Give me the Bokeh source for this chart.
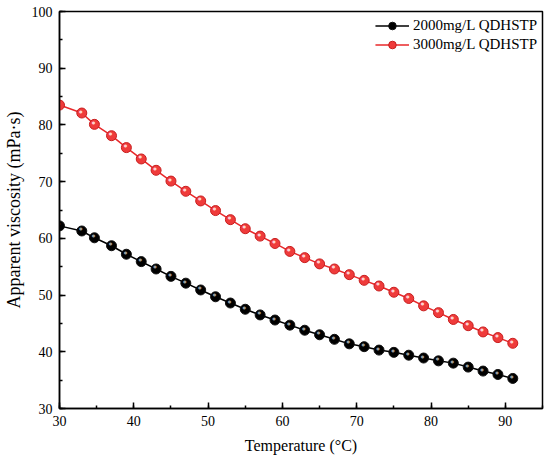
from bokeh.plotting import figure
from bokeh.models import SingleIntervalTicker, Range1d, Legend, LegendItem, ColumnDataSource
from bokeh.embed import file_html
from bokeh.resources import INLINE
from bokeh.core.properties import value

temperature = [30, 33, 34.7, 37, 39, 41, 43, 45, 47, 49, 51, 53, 55, 57, 59,
               61, 63, 65, 67, 69, 71, 73, 75, 77, 79, 81, 83, 85, 87, 89, 91]
visc_2000 = [62.2, 61.3, 60.1, 58.7, 57.2, 55.9, 54.6, 53.3, 52.1, 50.9, 49.7, 48.6, 47.5, 46.5, 45.6,
             44.7, 43.8, 43.0, 42.2, 41.4, 40.9, 40.3, 39.9, 39.4, 38.9, 38.4, 38.0, 37.3, 36.6, 36.0, 35.3]
visc_3000 = [83.5, 82.1, 80.1, 78.1, 76.0, 74.0, 72.0, 70.1, 68.3, 66.6, 64.9, 63.3, 61.7, 60.4, 59.1,
             57.7, 56.6, 55.5, 54.6, 53.6, 52.6, 51.6, 50.5, 49.4, 48.1, 46.9, 45.7, 44.6, 43.5, 42.5, 41.5]
labels = ["2000mg/L QDHSTP", "3000mg/L QDHSTP"]

FONT = "Liberation Serif"

p = figure(width=544, height=458, output_backend="svg", toolbar_location=None,
           x_range=Range1d(30, 95), y_range=Range1d(30, 100),
           min_border_left=56, min_border_top=11, min_border_right=2, min_border_bottom=50)
p.xgrid.visible = False
p.ygrid.visible = False
p.outline_line_color = "black"
p.outline_line_width = 1.5
p.background_fill_color = "white"
p.border_fill_color = "white"

for ax in (p.xaxis[0], p.yaxis[0]):
    ax.ticker = SingleIntervalTicker(interval=10, num_minor_ticks=2)
    ax.major_tick_in = 6
    ax.major_tick_out = 0
    ax.minor_tick_in = 3
    ax.minor_tick_out = 0
    ax.axis_line_width = 1.5
    ax.major_tick_line_width = 1.5
    ax.minor_tick_line_width = 1.5
    ax.major_label_text_font = FONT
    ax.major_label_text_font_size = "14px"
    ax.major_label_text_color = "black"
    ax.axis_label_text_font = FONT
    ax.axis_label_text_font_style = "normal"
    ax.axis_label_text_color = "black"

p.xaxis.major_label_standoff = 7
p.yaxis.major_label_standoff = 7
p.xaxis.axis_label = "Temperature (°C)"
p.xaxis.axis_label_text_font_size = "16px"
p.xaxis.axis_label_standoff = 8
p.yaxis.axis_label = "Apparent viscosity (mPa·s)"
p.yaxis.axis_label_text_font_size = "18px"
p.yaxis.axis_label_standoff = 5

series = [
    (visc_2000, "black", "black", "#111111", "#9a9a9a"),
    (visc_3000, "#e8282a", "#ef3b3b", "#c81e1e", "#ffd0d0"),
]
items = []
for (vals, lc, fc, ec, hc), lab in zip(series, labels):
    src = ColumnDataSource(dict(x=temperature, y=vals, t=["●"] * len(vals)))
    ln = p.line("x", "y", source=src, line_color=lc, line_width=1.5)
    sc = p.scatter("x", "y", source=src, size=10, fill_color=fc, line_color=ec, line_width=1)
    p.text("x", "y", text="t", source=src, text_font=value("DejaVu Sans"), text_font_size="4px",
           text_color=hc, text_align="center", text_baseline="middle", x_offset=-1, y_offset=-2)
    items.append(LegendItem(label=lab, renderers=[ln, sc]))

legend = Legend(items=items, location="top_right")
legend.label_text_font = FONT
legend.label_text_font_size = "15px"
legend.label_text_color = "black"
legend.glyph_width = 34
legend.glyph_height = 19
legend.label_height = 19
legend.label_standoff = 4
legend.spacing = 0
legend.padding = 4
legend.margin = 5
legend.border_line_color = None
legend.background_fill_alpha = 0
p.add_layout(legend)

open("out.html", "w").write(file_html(p, INLINE))
